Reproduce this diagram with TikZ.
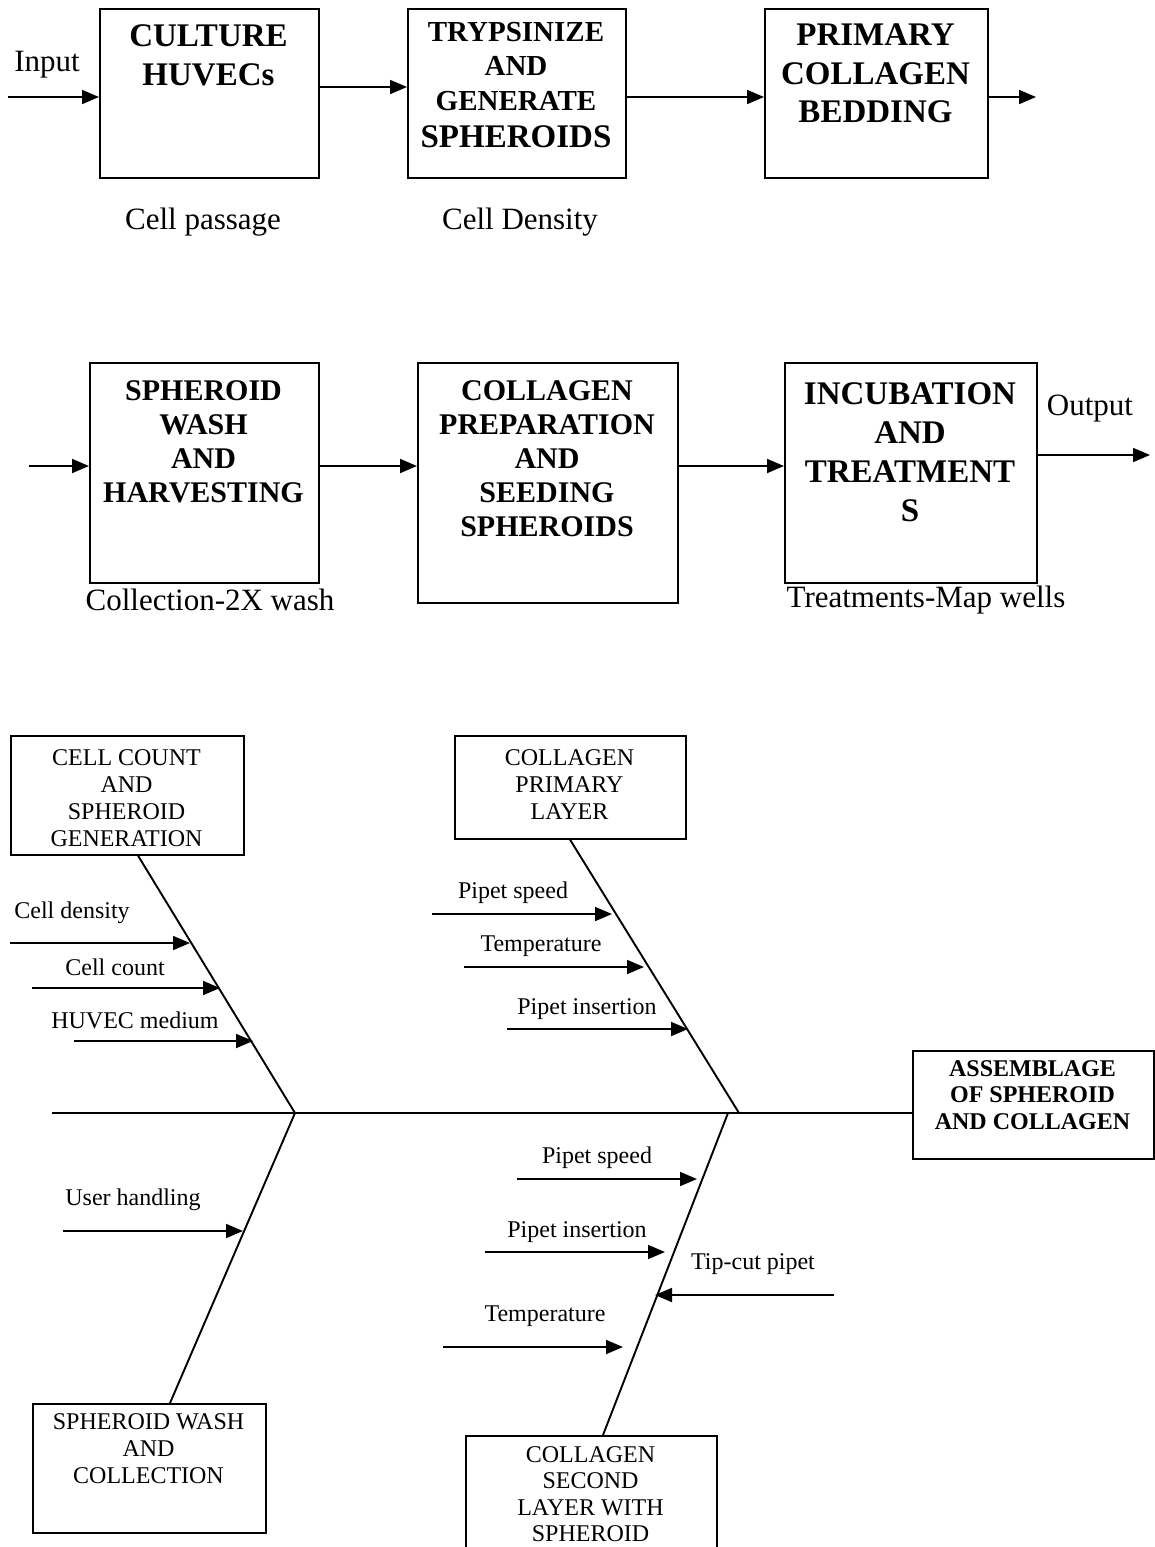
\documentclass[tikz,border=0pt]{standalone}
\usepackage{fontspec}
\setmainfont{Liberation Serif}
\usetikzlibrary{arrows.meta}
\begin{document}
\begin{tikzpicture}[x=1pt,y=-1pt,
  flowbox/.style={draw,line width=1.7pt,anchor=north west,inner sep=0pt},
  fishbox/.style={draw,line width=1.6pt,anchor=north west,inner sep=0pt},
  bigbold/.style={font=\fontsize{33}{39.5}\selectfont\bfseries,align=center,inner sep=0pt,anchor=north},
  midbold/.style={font=\fontsize{30}{34}\selectfont\bfseries,align=center,inner sep=0pt,anchor=north},
  lab/.style={font=\fontsize{31}{37}\selectfont,inner sep=0pt},
  boxtxt/.style={font=\fontsize{24}{27}\selectfont,align=center,inner sep=0pt,anchor=north},
  boxbold/.style={font=\fontsize{24}{26.5}\selectfont\bfseries,align=center,inner sep=0pt,anchor=north},
  cause/.style={font=\fontsize{24}{28}\selectfont,inner sep=0pt},
  flow/.style={line width=1.8pt,-{Triangle[length=17pt,width=14pt]}},
  bone/.style={line width=1.9pt},
  carrow/.style={line width=1.8pt,-{Triangle[length=17pt,width=14pt]}}
]
\useasboundingbox (0,0) rectangle (1155,1547);

% ---------- Top row ----------
\node[flowbox,minimum width=219pt,minimum height=169pt] (b1) at (99,8) {};
\node[bigbold] (t1) at (208.5,24) {CULTURE\\HUVECs};
\node[flowbox,minimum width=218pt,minimum height=169pt] (b2) at (407,8) {};
\node[font=\fontsize{29}{34.5}\selectfont\bfseries,align=center,inner sep=0pt,anchor=north] (t2) at (516,22) {TRYPSINIZE\\AND\\GENERATE\\[3pt]{\fontsize{33}{36}\selectfont SPHEROIDS}};
\node[flowbox,minimum width=223pt,minimum height=169pt] (b3) at (764,8) {};
\node[bigbold,font=\fontsize{33}{38.5}\selectfont\bfseries] (t3) at (875.5,24) {PRIMARY\\COLLAGEN\\BEDDING};

\coordinate (in1) at (8,97);
\coordinate (out1) at (1036,97);
\draw[flow] (in1) -- (in1 -| b1.west);
\draw[flow] (b1.east |- 0,87) -- (b2.west |- 0,87);
\draw[flow] (b2.east |- 0,97) -- (b3.west |- 0,97);
\draw[flow] (b3.east |- out1) -- (out1);

\node[lab] (lin) at (47,65) {Input};
\node[lab] (lcp) at (203,222) {Cell passage};
\node[lab] (lcd) at (520,222) {Cell Density};

% ---------- Second row ----------
\node[flowbox,minimum width=229pt,minimum height=220pt] (b4) at (89,362) {};
\node[midbold] (t4) at (203.5,380) {SPHEROID\\WASH\\AND\\HARVESTING};
\node[flowbox,minimum width=260pt,minimum height=240pt] (b5) at (417,362) {};
\node[midbold] (t5) at (547,380) {COLLAGEN\\PREPARATION\\AND\\SEEDING\\SPHEROIDS};
\node[flowbox,minimum width=252pt,minimum height=220pt] (b6) at (784,362) {};
\node[bigbold,font=\fontsize{33}{39}\selectfont\bfseries] (t6) at (910,382) {INCUBATION\\AND\\TREATMENT\\S};

\coordinate (in2) at (29,466);
\coordinate (out2) at (1150,455);
\draw[flow] (in2) -- (in2 -| b4.west);
\draw[flow] (b4.east |- in2) -- (b5.west |- in2);
\draw[flow] (b5.east |- in2) -- (b6.west |- in2);
\draw[flow] (b6.east |- out2) -- (out2);

\node[lab] (lout) at (1090,409) {Output};
\node[lab] (lcw) at (210,600) {Collection-2X wash};
\node[lab] (ltm) at (926,600) {Treatments-Map wells};

% ---------- Fishbone ----------
\node[fishbox,minimum width=233pt,minimum height=119pt] (cc) at (10,735) {};
\node[boxtxt] at (126.5,749) {CELL COUNT\\AND\\SPHEROID\\GENERATION};
\node[fishbox,minimum width=231pt,minimum height=103pt] (cp) at (454,735) {};
\node[boxtxt] at (569.5,749) {COLLAGEN\\PRIMARY\\LAYER};
\node[fishbox,minimum width=241pt,minimum height=108pt] (as) at (912,1050) {};
\node[boxbold] at (1032.5,1060) {ASSEMBLAGE\\OF SPHEROID\\AND COLLAGEN};
\node[fishbox,minimum width=233pt,minimum height=129pt] (sw) at (32,1403) {};
\node[boxtxt] at (148.5,1413) {SPHEROID WASH\\AND\\COLLECTION};
\node[fishbox,minimum width=251pt,minimum height=140pt] (cs) at (465,1435) {};
\node[boxtxt,font=\fontsize{24}{26.5}\selectfont] at (590.5,1446) {COLLAGEN\\SECOND\\LAYER WITH\\SPHEROID};

% spine
\coordinate (sp0) at (52,1113);
\draw[bone] (sp0) -- (sp0 -| as.west);

% bones
\coordinate (j1) at (295,1113);
\coordinate (j2) at (739,1113);
\coordinate (j3) at (728,1113);
\draw[bone] (cc.south -| 138,0) -- (j1);
\draw[bone] (cp.south -| 570,0) -- (j2);
\draw[bone] (j1) -- (sw.north -| 170,0);
\draw[bone] (j3) -- (cs.north -| 603,0);

% causes - upper left
\draw[carrow] (10,943) -- (190,943);
\draw[carrow] (32,988) -- (220,988);
\draw[carrow] (74,1041) -- (253,1041);
\node[cause] at (72,913) {Cell density};
\node[cause] at (115,967) {Cell count};
\node[cause] at (135,1020) {HUVEC medium};

% causes - upper middle
\draw[carrow] (432,914) -- (612,914);
\draw[carrow] (464,967) -- (644,967);
\draw[carrow] (507,1029) -- (688,1029);
\node[cause] at (513,893) {Pipet speed};
\node[cause] at (541,946) {Temperature};
\node[cause] at (587,1009) {Pipet insertion};

% causes - lower left
\draw[carrow] (63,1231) -- (243,1231);
\node[cause] at (133,1200) {User handling};

% causes - lower middle
\draw[carrow] (517,1179) -- (697,1179);
\draw[carrow] (485,1252) -- (665,1252);
\draw[carrow] (834,1295) -- (655,1295);
\draw[carrow] (443,1347) -- (623,1347);
\node[cause] at (597,1158) {Pipet speed};
\node[cause] at (577,1232) {Pipet insertion};
\node[cause] at (753,1264) {Tip-cut pipet};
\node[cause] at (545,1316) {Temperature};
\end{tikzpicture}
\end{document}
